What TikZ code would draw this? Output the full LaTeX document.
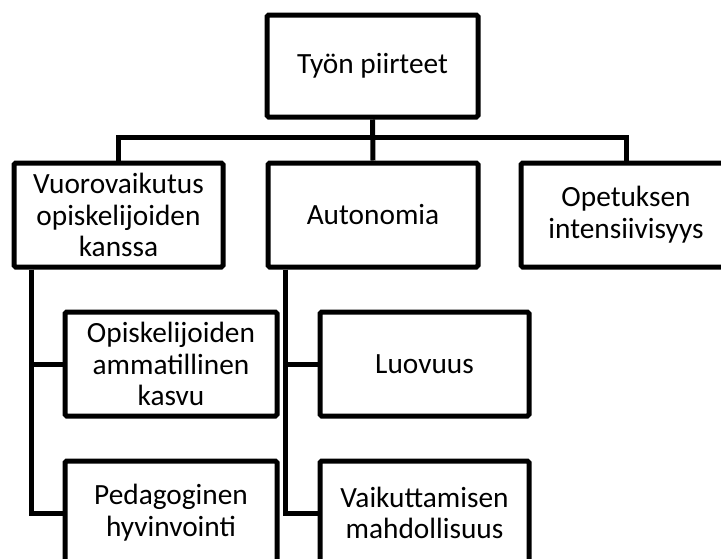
\documentclass[tikz,border=0pt]{standalone}
\usepackage{fontspec}
\setmainfont{Carlito}
\begin{document}
\begin{tikzpicture}[x=0.75pt,y=-0.75pt,
  box/.style={draw=black, line width=3.75pt, rounded corners=1.2pt, fill=white,
    align=center, inner sep=0pt, font=\fontsize{22}{23.8}\selectfont},
  link/.style={draw=black, line width=3.75pt, line join=miter}]
\useasboundingbox (0,0) rectangle (721,558);
\clip (0,0) rectangle (721,558);
\fill[white] (0,0) rectangle (721,558);

% main topic and the three themes
\node[box, minimum width=211*0.75pt, minimum height=102*0.75pt] (top) at (372.5,66) {Työn piirteet};
\node[box, minimum width=209*0.75pt, minimum height=104*0.75pt] (left) at (118.5,215) {Vuorovaikutus\\opiskelijoiden\\kanssa};
\node[box, minimum width=210*0.75pt, minimum height=104*0.75pt] (mid) at (373,215) {Autonomia};
\node[box, minimum width=210*0.75pt, minimum height=104*0.75pt] (right) at (626,215) {Opetuksen\\intensiivisyys};

% sub-themes
\node[box, minimum width=212*0.75pt, minimum height=104*0.75pt] (c1) at (171,364) {Opiskelijoiden\\ammatillinen\\kasvu};
\node[box, minimum width=212*0.75pt, minimum height=104*0.75pt] (c2) at (171,513) {Pedagoginen\\hyvinvointi};
\node[box, minimum width=209*0.75pt, minimum height=104*0.75pt] (c3) at (424.5,364) {Luovuus};
\node[box, minimum width=209*0.75pt, minimum height=104*0.75pt] (c4) at (424.5,513) {Vaikuttamisen\\mahdollisuus};

% connectors from the main topic
\draw[link] (top.south) -- (mid.north);
\draw[link] (left.north) -- ++(0,-23) -| (right.north);

% connectors to the sub-themes
\draw[link] (left.south west) ++(20,0) |- (c1.west);
\draw[link] (left.south west) ++(20,0) |- (c2.west);
\draw[link] (mid.south west) ++(20,0) |- (c3.west);
\draw[link] (mid.south west) ++(20,0) |- (c4.west);
\end{tikzpicture}
\end{document}
